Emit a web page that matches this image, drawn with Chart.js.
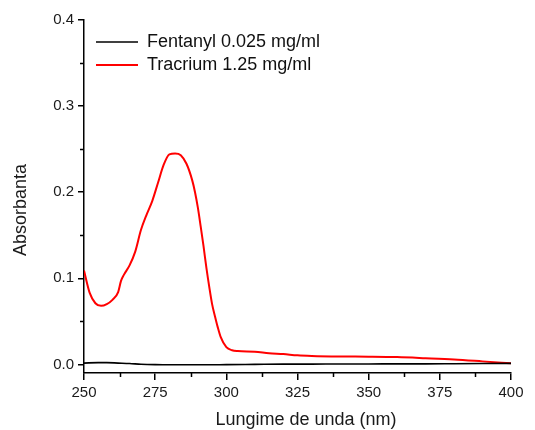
<!DOCTYPE html>
<html>
<head>
<meta charset="utf-8">
<script src="https://cdn.jsdelivr.net/npm/chart.js@4.4.1/dist/chart.umd.min.js"></script>
<style>
  html, body { margin: 0; padding: 0; background: #ffffff; }
  #wrap { width: 535px; height: 430px; }
</style>
</head>
<body>
<div id="wrap"><canvas id="c" width="535" height="430"></canvas></div>
<script>
// UV-Vis absorbance spectra
const seriesNames = ['Fentanyl 0.025 mg/ml', 'Tracrium 1.25 mg/ml'];

const fentanylWavelength = [250, 255, 258, 262, 266, 270, 275, 280, 290, 300, 310, 320, 330, 340, 350, 360, 370, 380, 390, 400];
const fentanylAbs = [0.0015, 0.002, 0.002, 0.0015, 0.001, 0.0002, -0.0003, -0.0005, -0.0005, -0.0003, 0.0, 0.0003, 0.0003, 0.0005, 0.0005, 0.0006, 0.0006, 0.0008, 0.001, 0.0012];

const tracriumWavelength = [250, 252, 254, 256, 258, 260, 262, 263, 264, 266, 268, 270, 272, 274, 276, 278, 280, 282, 284, 286, 288, 289, 290, 291, 292, 293, 294, 295, 296, 297, 298, 300, 302, 304, 310, 315, 320, 325, 330, 340, 350, 360, 370, 380, 390, 400];
const tracriumAbs = [0.109, 0.083, 0.071, 0.068, 0.070, 0.075, 0.084, 0.097, 0.104, 0.115, 0.131, 0.156, 0.174, 0.190, 0.211, 0.232, 0.244, 0.245, 0.243, 0.233, 0.214, 0.200, 0.182, 0.160, 0.137, 0.112, 0.090, 0.070, 0.056, 0.043, 0.032, 0.020, 0.0165, 0.0155, 0.0148, 0.013, 0.012, 0.0105, 0.0098, 0.0092, 0.009, 0.0085, 0.0072, 0.0057, 0.0035, 0.0012];

const xTickValues = [250, 275, 300, 325, 350, 375, 400];
const xMinorTicks = [262.5, 287.5, 312.5, 337.5, 362.5, 387.5];
const yTickValues = [0.0, 0.1, 0.2, 0.3, 0.4];
const yMinorTicks = [0.05, 0.15, 0.25, 0.35];

const xTitle = 'Lungime de unda (nm)';
const yTitle = 'Absorbanta';

const toPoints = (xs, ys) => xs.map((x, i) => ({ x: x, y: ys[i] }));

Chart.defaults.font.family = 'Arial, "Liberation Sans", sans-serif';
Chart.defaults.color = '#1a1a1a';

const AXIS = '#000000';

// Minor tick marks and the axis titles
const decorations = {
  id: 'decorations',
  afterDraw(chart) {
    const ctx = chart.ctx;
    const xs = chart.scales.x, ys = chart.scales.y;
    const area = chart.chartArea;
    ctx.save();
    ctx.strokeStyle = AXIS;
    ctx.lineWidth = 1.5;
    ctx.beginPath();
    xMinorTicks.forEach(v => {
      const px = Math.round(xs.getPixelForValue(v)) + 0.5;
      ctx.moveTo(px, area.bottom);
      ctx.lineTo(px, area.bottom + 4);
    });
    yMinorTicks.forEach(v => {
      const py = Math.round(ys.getPixelForValue(v)) + 0.5;
      ctx.moveTo(area.left, py);
      ctx.lineTo(area.left - 4, py);
    });
    ctx.stroke();

    ctx.fillStyle = '#1a1a1a';
    ctx.font = '18px Arial, "Liberation Sans", sans-serif';
    ctx.textAlign = 'center';
    ctx.textBaseline = 'middle';
    ctx.fillText(xTitle, 306, 420);
    ctx.translate(21, 210);
    ctx.rotate(-Math.PI / 2);
    ctx.fillText(yTitle, 0, 0);
    ctx.restore();
  }
};

// Place the in-plot legend near the top-left corner of the plot area
const legendPlacement = {
  id: 'legendPlacement',
  afterLayout(chart) {
    if (chart.legend) {
      chart.legend.left = chart.chartArea.left + 7;
      chart.legend.top = chart.chartArea.top + 8;
    }
  }
};

new Chart(document.getElementById('c'), {
  type: 'line',
  data: {
    datasets: [
      {
        label: seriesNames[0],
        data: toPoints(fentanylWavelength, fentanylAbs),
        borderColor: '#000000',
        backgroundColor: '#000000',
        borderWidth: 1.6,
        pointRadius: 0,
        cubicInterpolationMode: 'monotone',
        fill: false
      },
      {
        label: seriesNames[1],
        data: toPoints(tracriumWavelength, tracriumAbs),
        borderColor: '#ff0000',
        backgroundColor: '#ff0000',
        borderWidth: 2,
        pointRadius: 0,
        cubicInterpolationMode: 'monotone',
        fill: false
      }
    ]
  },
  options: {
    responsive: false,
    animation: false,
    events: [],
    layout: { padding: { left: 0, top: 20, right: 24, bottom: 0 } },
    plugins: {
      legend: {
        position: 'chartArea',
        align: 'start',
        labels: {
          usePointStyle: true,
          pointStyle: 'line',
          pointStyleWidth: 42,
          padding: 5,
          color: '#111111',
          font: { size: 18 }
        }
      },
      tooltip: { enabled: false },
      title: { display: false }
    },
    scales: {
      x: {
        type: 'linear',
        position: 'bottom',
        min: 250,
        max: 400,
        border: { color: AXIS, width: 1.5 },
        grid: { drawOnChartArea: false, drawTicks: true, tickLength: 7, color: AXIS, lineWidth: 1.5 },
        ticks: { font: { size: 15 }, padding: 4, maxRotation: 0, color: '#1a1a1a' },
        afterBuildTicks: s => { s.ticks = xTickValues.map(v => ({ value: v })); },
        afterFit: s => { s.height = 57; }
      },
      y: {
        type: 'linear',
        min: -0.01,
        max: 0.4,
        border: { color: AXIS, width: 1.5 },
        grid: { drawOnChartArea: false, drawTicks: true, tickLength: 6, color: AXIS, lineWidth: 1.5 },
        ticks: { font: { size: 15 }, padding: 4, color: '#1a1a1a', callback: v => Number(v).toFixed(1) },
        afterBuildTicks: s => { s.ticks = yTickValues.map(v => ({ value: v })); },
        afterFit: s => { s.width = 84; }
      }
    }
  },
  plugins: [decorations, legendPlacement]
});
</script>
</body>
</html>
